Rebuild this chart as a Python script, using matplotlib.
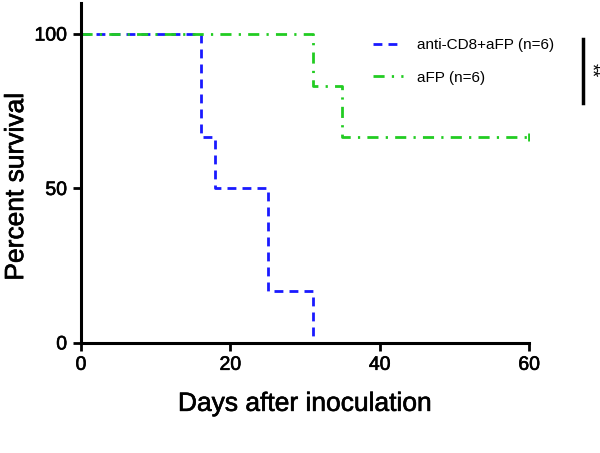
import numpy as np
from matplotlib import pyplot as plt
from matplotlib import patheffects as pe

plt.rcParams['font.family'] = ['Liberation Sans', 'DejaVu Sans']

# survival steps (days, percent)
cd8_days = [0, 16, 18, 25, 31]
cd8_surv = [100, 66.7, 50, 16.7, 0]
afp_days = [0, 31, 35, 60]
afp_surv = [100, 83.3, 66.7, 66.7]
afp_censor_day = [60]
afp_censor_surv = [66.7]

labels = ['anti-CD8+aFP (n=6)', 'aFP (n=6)']
xticks = [0, 20, 40, 60]
yticks = [0, 50, 100]

thick = [pe.withStroke(linewidth=0.45, foreground='black')]

fig = plt.figure(figsize=(6.0, 4.53), dpi=100)
ax = fig.add_axes([0.135, 0.243, 0.747, 0.75])

ax.step(cd8_days, cd8_surv, where='post', color='#1a1aff', lw=2.0,
        linestyle=(0, (3.2, 2.2)), label=labels[0])
ax.step(afp_days, afp_surv, where='post', color='#22cc22', lw=2.0,
        linestyle=(0, (4.0, 2.6, 0.8, 2.6)), label=labels[1])
ax.plot(afp_censor_day, afp_censor_surv, linestyle='none', marker='|',
        color='#22cc22', markersize=6, markeredgewidth=2.0)

ax.set_xlim(0, 60)
ax.set_ylim(0, 110)
ax.set_xticks(xticks)
ax.set_yticks(yticks)
for s in ['top', 'right']:
    ax.spines[s].set_visible(False)
for s in ['left', 'bottom']:
    ax.spines[s].set_linewidth(2.2)
ax.tick_params(width=2, length=6, labelsize=14, pad=4)
for t in ax.get_xticklabels() + ax.get_yticklabels():
    t.set_path_effects(thick)
ax.set_xlabel('Days after inoculation', fontsize=19, labelpad=13,
              path_effects=thick)
ax.set_ylabel('Percent survival', fontsize=19, path_effects=thick)
ax.yaxis.set_label_coords(-0.118, 0.46)

leg = ax.legend(loc='upper left', bbox_to_anchor=(0.62, 0.937), frameon=False,
                fontsize=11, handlelength=2.0, handletextpad=0.9,
                labelspacing=1.2)

# significance bar
fig.add_artist(plt.Line2D([0.972, 0.972], [0.773, 0.915], color='black', lw=2.5))
fig.text(0.984, 0.845, '**', rotation=-90, ha='center', va='center', fontsize=13)

plt.savefig('out.png', dpi=100)
